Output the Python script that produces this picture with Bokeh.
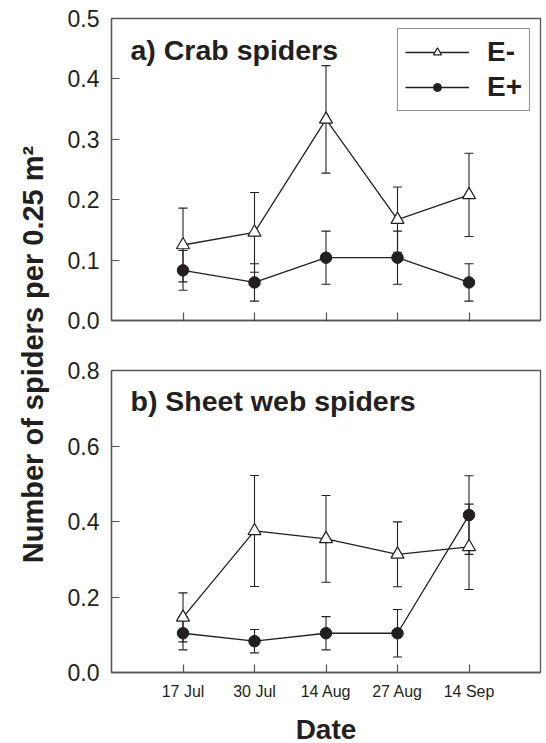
import math
from bokeh.plotting import figure
from bokeh.layouts import row, column
from bokeh.models import (Range1d, FactorRange, ColumnDataSource, Whisker, TeeHead,
                          Label, Legend, LegendItem, FixedTicker, PrintfTickFormatter)
from bokeh.embed import file_html
from bokeh.resources import INLINE

# ---------------- data ----------------
dates = ["17 Jul", "30 Jul", "14 Aug", "27 Aug", "14 Sep"]

crab_em_mean = [0.125, 0.146, 0.333, 0.167, 0.208]
crab_em_se = [0.061, 0.066, 0.089, 0.054, 0.069]
crab_ep_mean = [0.083, 0.063, 0.104, 0.104, 0.063]
crab_ep_se = [0.033, 0.031, 0.044, 0.044, 0.031]

sheet_em_mean = [0.146, 0.375, 0.354, 0.313, 0.333]
sheet_em_se = [0.065, 0.147, 0.115, 0.086, 0.113]
sheet_ep_mean = [0.104, 0.083, 0.104, 0.104, 0.417]
sheet_ep_se = [0.044, 0.031, 0.044, 0.063, 0.104]

crab_yticks = [0.0, 0.1, 0.2, 0.3, 0.4, 0.5]
sheet_yticks = [0.0, 0.2, 0.4, 0.6, 0.8]

series_names = ["E-", "E+"]
panel_titles = ["a) Crab spiders", "b) Sheet web spiders"]
y_label = "Number of spiders per 0.25 m\u00b2"
x_label = "Date"

# ---------------- style ----------------
FONT = "Liberation Sans"
INK = "#231f20"
FRAME = "#555555"
FRAME_W = 429
FRAME_H = 302
SIDE_W = 60
TOP_A = 18
GAP = 25
BOTTOM_B = 70


def src(mean, se):
    return ColumnDataSource(dict(
        x=dates, y=mean,
        upper=[m + s for m, s in zip(mean, se)],
        lower=[m - s for m, s in zip(mean, se)],
    ))


def make_panel(em_mean, em_se, ep_mean, ep_se, ymax, yticks, title, title_y,
               top, bottom, show_labels):
    p = figure(
        x_range=FactorRange(factors=dates, range_padding=0.5, range_padding_units="absolute"),
        y_range=Range1d(0, ymax),
        frame_width=FRAME_W, frame_height=FRAME_H,
        min_border_left=51, min_border_right=3,
        min_border_top=top, min_border_bottom=bottom,
        toolbar_location=None, output_backend="svg",
    )
    p.background_fill_color = "white"
    p.border_fill_color = "white"
    p.grid.visible = False
    p.outline_line_color = FRAME
    p.outline_line_width = 1.3

    for ax in (p.xaxis[0], p.yaxis[0]):
        ax.axis_line_color = FRAME
        ax.axis_line_width = 1.3
        ax.major_tick_line_color = FRAME
        ax.major_tick_line_width = 1.2
        ax.major_tick_in = 8
        ax.major_tick_out = 0
        ax.minor_tick_line_color = None
        ax.major_label_text_font = FONT
        ax.major_label_text_color = INK

    p.yaxis.ticker = FixedTicker(ticks=yticks)
    p.yaxis.formatter = PrintfTickFormatter(format="%.1f")
    p.yaxis.major_label_text_font_size = "23px"
    p.yaxis.major_label_standoff = 12

    p.xaxis.major_label_orientation = "horizontal"
    if show_labels:
        p.xaxis.major_label_text_font_size = "16px"
        p.xaxis.major_label_standoff = 10
        p.xaxis.axis_label = x_label
        p.xaxis.axis_label_text_font = FONT
        p.xaxis.axis_label_text_font_size = "28px"
        p.xaxis.axis_label_text_font_style = "bold"
        p.xaxis.axis_label_text_color = INK
        p.xaxis.axis_label_standoff = 11
    else:
        p.xaxis.major_label_overrides = {d: "" for d in dates}
        p.xaxis.major_label_text_font_size = "1px"
        p.xaxis.major_label_standoff = 0

    s_em = src(em_mean, em_se)
    s_ep = src(ep_mean, ep_se)

    # E- series
    l_em = p.line("x", "y", source=s_em, line_color=INK, line_width=1.3)
    p.add_layout(Whisker(base="x", upper="upper", lower="lower", source=s_em,
                         line_color=INK, line_width=1.1,
                         upper_head=TeeHead(size=9, line_color=INK, line_width=1.1),
                         lower_head=TeeHead(size=9, line_color=INK, line_width=1.1)))
    m_em = p.scatter("x", "y", source=s_em, marker="triangle", size=13,
                     fill_color="white", line_color=INK, line_width=1.2)
    # E+ series
    l_ep = p.line("x", "y", source=s_ep, line_color=INK, line_width=1.3)
    p.add_layout(Whisker(base="x", upper="upper", lower="lower", source=s_ep,
                         line_color=INK, line_width=1.1,
                         upper_head=TeeHead(size=9, line_color=INK, line_width=1.1),
                         lower_head=TeeHead(size=9, line_color=INK, line_width=1.1)))
    m_ep = p.scatter("x", "y", source=s_ep, marker="circle", size=11.5,
                     fill_color=INK, line_color=INK, line_width=1)

    p.add_layout(Label(x=-0.234, y=title_y, text=title, text_font=FONT,
                       text_font_size="28.5px", text_font_style="bold",
                       text_color=INK, text_baseline="alphabetic", text_align="left"))
    return p, (l_em, m_em), (l_ep, m_ep)


fa, ra_em, ra_ep = make_panel(crab_em_mean, crab_em_se, crab_ep_mean, crab_ep_se,
                              0.5, crab_yticks, panel_titles[0], 0.448, TOP_A, GAP, False)
fb, _, _ = make_panel(sheet_em_mean, sheet_em_se, sheet_ep_mean, sheet_ep_se,
                      0.8, sheet_yticks, panel_titles[1], 0.718, GAP, BOTTOM_B, True)

legend = Legend(items=[LegendItem(label=series_names[0], renderers=list(ra_em)),
                       LegendItem(label=series_names[1], renderers=list(ra_ep))],
                location="top_right", margin=10, padding=7, spacing=3,
                glyph_width=64, glyph_height=20, label_standoff=18,
                label_text_font=FONT, label_text_font_size="28px",
                label_text_font_style="bold", label_text_color=INK,
                border_line_color=INK, border_line_width=1.3,
                background_fill_color="white", background_fill_alpha=1)
fa.add_layout(legend)

# shared y-axis title in a narrow side canvas
TOTAL_H = TOP_A + FRAME_H + GAP + GAP + FRAME_H + BOTTOM_B
lf = figure(width=SIDE_W, height=TOTAL_H, x_range=Range1d(0, SIDE_W), y_range=Range1d(TOTAL_H, 0),
            min_border=0, x_axis_type=None, y_axis_type=None,
            toolbar_location=None, output_backend="svg")
lf.grid.visible = False
lf.outline_line_color = None
lf.add_layout(Label(x=32, y=354, text=y_label, angle=math.pi / 2,
                    text_font=FONT, text_font_size="29px", text_font_style="bold",
                    text_color=INK, text_align="center", text_baseline="middle"))

layout = row(lf, column(fa, fb))

open("out.html", "w").write(file_html(layout, INLINE))
